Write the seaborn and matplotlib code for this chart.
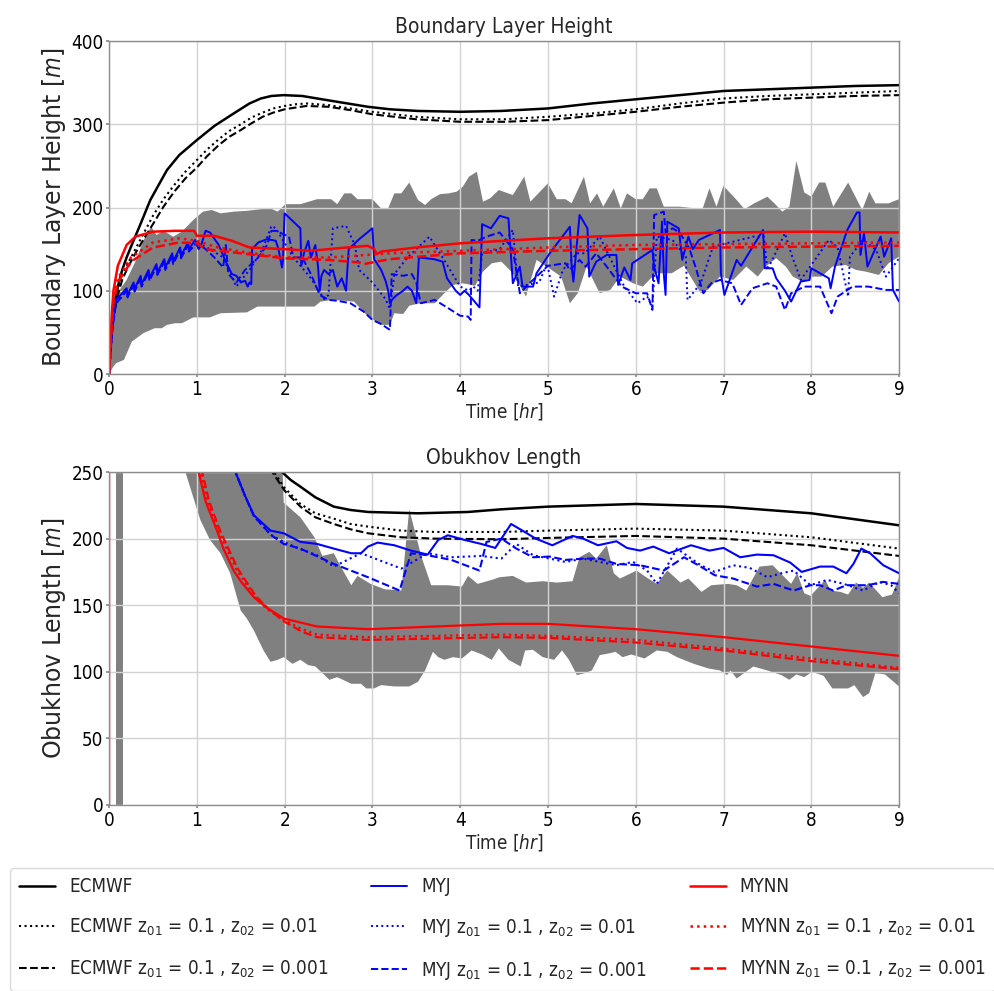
import numpy as np
import matplotlib
matplotlib.use("Agg")
import matplotlib.pyplot as plt
import seaborn as sns

# ---------------- Boundary layer height [m] ----------------
blh_ecmwf_t = [0, 0.02, 0.05, 0.1, 0.15, 0.2, 0.27, 0.35, 0.47, 0.57, 0.66, 0.8, 1.0, 1.2, 1.42, 1.6, 1.73, 1.85,
               1.99, 2.2, 2.37, 2.6, 2.95, 3.2, 3.52, 4.0, 4.47, 5.0, 5.5, 6.0, 6.5, 7.0, 7.5, 8.0, 8.5, 9.0]
blh_ecmwf = [0, 45, 75, 105, 125, 140, 158, 178, 209, 228, 245, 263, 281, 298, 313, 325, 331, 334,
             335, 334, 331, 327, 321, 318, 316, 315, 316, 319, 325, 330, 335, 340, 342, 344, 346, 347]
blh_ecmwf_2_t = [0, 0.02, 0.05, 0.1, 0.15, 0.2, 0.3, 0.4, 0.5, 0.62, 0.75, 0.87, 1.0, 1.12, 1.25, 1.37, 1.5, 1.62,
                 1.75, 1.87, 2.0, 2.12, 2.25, 2.5, 2.75, 3.0, 3.5, 4.0, 4.5, 5.0, 5.5, 6.0, 6.5, 7.0, 7.5, 8.0,
                 8.5, 9.0]
blh_ecmwf_2 = [0, 40, 70, 100, 118, 130, 150, 170, 190, 210, 228, 243, 257, 270, 282, 292, 300, 308,
               314, 319, 322, 324, 325, 323, 319, 315, 309, 306, 306, 309, 313, 318, 325, 331, 334, 336,
               338, 340]
blh_ecmwf_3 = [0, 38, 68, 95, 113, 125, 145, 163, 180, 201, 220, 235, 248, 262, 275, 285, 293, 301,
               309, 314, 318, 320, 322, 321, 317, 312, 306, 303, 303, 305, 310, 315, 321, 326, 330, 332,
               334, 335]

blh_mynn_t = [0, 0.03, 0.05, 0.1, 0.2, 0.3, 0.5, 0.75, 0.97, 1.0, 1.2, 1.4, 1.6, 2.0, 2.3, 2.6, 2.95, 3.02,
              3.05, 3.1, 3.5, 4.0, 4.5, 5.0, 6.0, 7.0, 8.0, 9.0]
blh_mynn = [0, 70, 100, 130, 155, 165, 171, 172, 172, 166, 166, 160, 152, 150, 148, 151, 154, 150,
            144, 147, 152, 157, 160, 163, 167, 170, 171, 170]
blh_mynn_2_t = [0, 0.03, 0.05, 0.1, 0.25, 0.5, 0.8, 1.0, 1.2, 1.5, 2.0, 2.5, 2.8, 3.2, 4.0, 5.0, 6.0, 7.0, 8.0, 9.0]
blh_mynn_2 = [0, 60, 90, 115, 140, 158, 163, 160, 153, 147, 140, 140, 142, 145, 148, 152, 155, 156, 157, 158]
blh_mynn_3_t = [0, 0.03, 0.05, 0.1, 0.25, 0.5, 0.8, 1.0, 1.1, 1.5, 2.0, 2.5, 2.85, 2.9, 3.2, 4.0, 5.0, 6.0, 7.0, 8.0, 9.0]
blh_mynn_3 = [0, 55, 85, 110, 135, 152, 158, 157, 150, 145, 139, 137, 134, 132, 138, 145, 148, 150, 152, 153, 154]

blh_myj_t = [0, 0.04, 0.08, 0.15, 0.2, 0.21, 0.28, 0.29, 0.36, 0.37,
             0.45, 0.46, 0.54, 0.55, 0.63, 0.64, 0.72, 0.73, 0.81, 0.82,
             0.9, 0.91, 0.98, 1.02, 1.05, 1.1, 1.15, 1.25, 1.33, 1.4,
             1.45, 1.5, 1.55, 1.58, 1.6, 1.62, 1.63, 1.7, 1.8, 1.9,
             1.93, 1.97, 1.98, 2.0, 2.1, 2.18, 2.19, 2.22, 2.27, 2.3,
             2.35, 2.38, 2.4, 2.42, 2.45, 2.5, 2.55, 2.6, 2.65, 2.7,
             2.73, 2.85, 3.0, 3.02, 3.1, 3.15, 3.18, 3.2, 3.23, 3.28,
             3.35, 3.4, 3.45, 3.5, 3.53, 3.7, 3.8, 3.85, 3.95, 4.0,
             4.05, 4.1, 4.18, 4.22, 4.25, 4.35, 4.45, 4.55, 4.6, 4.68,
             4.71, 4.83, 4.87, 5.02, 5.25, 5.27, 5.29, 5.36, 5.45, 5.47,
             5.55, 5.67, 5.78, 5.8, 5.87, 5.94, 5.96, 6.19, 6.21, 6.26,
             6.3, 6.32, 6.34, 6.36, 6.49, 6.53, 6.6, 6.65, 6.72, 6.96,
             6.97, 7.01, 7.15, 7.2, 7.45, 7.47, 7.56, 7.6, 7.7, 7.77,
             7.88, 7.98, 8.0, 8.2, 8.22, 8.27, 8.41, 8.52, 8.55, 8.56,
             8.6, 8.64, 8.79, 8.83, 8.91, 8.93, 9.0]
blh_myj = [0, 60, 89, 97, 103, 95, 110, 102, 118, 108,
           125, 115, 132, 122, 138, 128, 145, 135, 152, 142,
           158, 150, 161, 150, 155, 172, 170, 155, 135, 120,
           118, 110, 112, 105, 110, 108, 150, 158, 162, 160,
           150, 128, 135, 193, 183, 175, 130, 145, 160, 140,
           155, 130, 100, 118, 125, 120, 125, 105, 115, 100,
           150, 162, 175, 138, 125, 112, 100, 85, 90, 95,
           100, 105, 100, 85, 140, 138, 135, 115, 100, 95,
           100, 95, 85, 80, 180, 175, 190, 187, 109, 129,
           105, 105, 121, 145, 177, 129, 111, 191, 175, 117,
           135, 143, 143, 107, 128, 113, 133, 149, 129, 109,
           183, 120, 95, 183, 175, 137, 165, 150, 161, 173,
           121, 95, 137, 130, 173, 127, 127, 115, 100, 87,
           111, 113, 127, 115, 103, 129, 173, 194, 194, 143,
           169, 129, 165, 141, 163, 101, 87]
blh_myj_2_t = [0, 0.04, 0.08, 0.15, 0.2, 0.21, 0.28, 0.29, 0.36, 0.37,
               0.45, 0.46, 0.54, 0.55, 0.63, 0.64, 0.72, 0.73, 0.81, 0.82,
               0.9, 0.91, 1.0, 1.15, 1.3, 1.45, 1.5, 1.6, 1.75, 1.85,
               1.9, 2.1, 2.3, 2.45, 2.5, 2.55, 2.7, 2.8, 2.85, 3.0,
               3.15, 3.2, 3.25, 3.4, 3.65, 3.8, 4.0, 4.1, 4.15, 4.2,
               4.25, 4.45, 4.6, 4.66, 4.9, 4.99, 5.07, 5.17, 5.33, 5.42,
               5.59, 5.7, 5.87, 6.02, 6.13, 6.19, 6.24, 6.42, 6.57, 6.59,
               6.74, 6.88, 7.11, 7.34, 7.46, 7.5, 7.7, 7.77, 7.88, 8.04,
               8.2, 8.3, 8.42, 8.44, 8.59, 8.74, 8.85, 9.0]
blh_myj_2 = [0, 58, 87, 95, 101, 93, 108, 100, 116, 106,
             123, 113, 130, 120, 136, 126, 143, 133, 150, 140,
             156, 148, 158, 150, 140, 105, 112, 125, 150, 178,
             175, 140, 115, 90, 95, 175, 178, 155, 125, 110,
             90, 78, 120, 140, 165, 140, 105, 100, 105, 100,
             145, 150, 173, 105, 110, 133, 93, 125, 145, 145,
             165, 141, 105, 85, 93, 81, 165, 161, 141, 89,
             109, 153, 159, 165, 165, 125, 169, 145, 113, 137,
             161, 152, 93, 141, 161, 149, 117, 139]
blh_myj_3_t = [0, 0.04, 0.08, 0.15, 0.2, 0.21, 0.28, 0.29, 0.36, 0.37,
               0.45, 0.46, 0.54, 0.55, 0.63, 0.64, 0.72, 0.73, 0.81, 0.82,
               0.9, 0.91, 1.0, 1.1, 1.2, 1.3, 1.33, 1.36, 1.45, 1.55,
               1.7, 1.8, 1.85, 1.9, 2.05, 2.1, 2.2, 2.3, 2.4, 2.5,
               2.6, 2.75, 2.9, 3.0, 3.1, 3.2, 3.22, 3.35, 3.45, 3.5,
               3.55, 3.71, 3.85, 4.0, 4.09, 4.12, 4.13, 4.2, 4.3, 4.45,
               4.6, 4.68, 4.8, 5.0, 5.2, 5.25, 5.36, 5.43, 5.55, 5.67,
               5.84, 6.0, 6.13, 6.19, 6.21, 6.32, 6.34, 6.42, 6.5, 6.61,
               6.68, 6.77, 6.86, 6.96, 7.1, 7.2, 7.33, 7.5, 7.6, 7.7,
               7.77, 7.92, 8.1, 8.23, 8.3, 8.47, 8.65, 8.85, 9.0]
blh_myj_3 = [0, 55, 85, 93, 100, 92, 107, 99, 115, 105,
             122, 112, 129, 119, 135, 125, 142, 132, 149, 139,
             155, 147, 158, 150, 140, 128, 155, 120, 110, 125,
             140, 155, 172, 172, 165, 140, 140, 120, 95, 89,
             88, 85, 75, 65, 60, 53, 120, 118, 120, 110,
             85, 89, 80, 70, 69, 65, 161, 160, 165, 170,
             150, 97, 110, 130, 133, 125, 137, 129, 145, 129,
             105, 97, 97, 77, 191, 195, 170, 175, 170, 151,
             129, 97, 109, 113, 109, 83, 103, 109, 105, 77,
             97, 105, 105, 73, 93, 105, 105, 101, 101]

# LES envelope (min / max)
blh_hi_t = [0, 0.05, 0.12, 0.2, 0.3, 0.39, 0.48, 0.54, 0.62, 0.73, 0.83, 0.96, 1.07, 1.17, 1.27, 1.42, 1.57,
            1.73, 1.84, 1.92, 2.01, 2.18, 2.37, 2.53, 2.6, 2.68, 2.76, 2.83, 3.0, 3.1, 3.18, 3.25, 3.33, 3.42,
            3.52, 3.6, 3.67, 3.77, 3.87, 3.96, 4.03, 4.1, 4.19, 4.26, 4.34, 4.44, 4.6, 4.73, 4.8, 5.0, 5.1,
            5.2, 5.27, 5.41, 5.48, 5.56, 5.63, 5.75, 5.83, 5.9, 6.0, 6.08, 6.16, 6.24, 6.32, 6.5, 6.76, 6.84,
            6.92, 7.0, 7.15, 7.24, 7.35, 7.5, 7.58, 7.67, 7.75, 7.83, 7.92, 8.0, 8.09, 8.16, 8.25, 8.42, 8.58,
            8.66, 8.73, 8.88, 9.0]
blh_hi = [0, 97, 101, 113, 135, 160, 177, 167, 172, 165, 171, 185, 195, 197, 193, 195, 196,
          198, 199, 195, 204, 204, 210, 210, 204, 217, 217, 210, 210, 199, 199, 217, 217, 230,
          209, 203, 210, 216, 217, 219, 225, 237, 243, 207, 211, 221, 215, 237, 207, 229, 210,
          210, 205, 237, 205, 217, 201, 223, 199, 217, 210, 210, 223, 223, 201, 201, 198, 223,
          201, 226, 209, 198, 205, 213, 205, 195, 201, 256, 218, 213, 230, 230, 201, 230, 197,
          219, 205, 205, 210]
blh_lo_t = [0, 0.05, 0.08, 0.17, 0.26, 0.39, 0.52, 0.6, 0.66, 0.75, 0.83, 0.96, 1.15, 1.27, 1.57, 1.69, 2.34,
            2.41, 2.55, 2.79, 2.95, 3.1, 3.2, 3.25, 3.35, 3.42, 3.54, 3.71, 3.82, 3.92, 4.03, 4.17, 4.26, 4.36,
            4.47, 4.6, 4.75, 4.87, 5.0, 5.15, 5.25, 5.34, 5.44, 5.59, 5.71, 5.82, 5.97, 6.08, 6.23, 6.41, 6.55,
            6.74, 6.82, 6.96, 7.11, 7.26, 7.39, 7.48, 7.6, 7.71, 7.79, 7.9, 8.02, 8.12, 8.24, 8.39, 8.51, 8.62,
            8.77, 8.88, 9.0]
blh_lo = [0, 9, 13, 17, 39, 49, 55, 55, 59, 61, 61, 68, 68, 73, 74, 81, 81,
          87, 89, 87, 69, 59, 59, 73, 72, 82, 85, 85, 97, 107, 109, 106, 123, 133,
          135, 121, 93, 137, 128, 117, 85, 97, 129, 97, 101, 117, 109, 105, 121, 121, 130,
          97, 101, 117, 113, 129, 117, 129, 139, 129, 117, 111, 117, 117, 129, 131, 125, 123,
          119, 133, 141]

# ---------------- Obukhov length [m] ----------------
obl_ecmwf_t = [0.5, 1.2, 1.6, 1.85, 1.97, 2.07, 2.18, 2.35, 2.56, 2.75, 2.95, 3.52, 4.09, 4.47, 5, 6, 7, 8, 9]
obl_ecmwf = [1200, 500, 330, 270, 250, 244, 239, 231, 224, 221.5, 220, 219, 220, 222, 224, 226, 224, 219, 210]
obl_ecmwf_2_t = [0.5, 1.2, 1.6, 1.8, 1.88, 2.0, 2.18, 2.35, 2.56, 2.75, 2.95, 3.33, 3.71, 4.47, 5, 6, 7, 8, 9]
obl_ecmwf_2 = [1200, 500, 320, 265, 250, 238, 226, 219, 215, 211, 209, 206, 205, 205, 206, 207.5, 206, 201, 192.5]
obl_ecmwf_3_t = [0.5, 1.2, 1.6, 1.78, 1.86, 2.0, 2.18, 2.35, 2.56, 2.75, 2.95, 3.33, 3.71, 4.47, 5, 6, 7, 8, 9]
obl_ecmwf_3 = [1200, 480, 310, 262, 250, 236, 224, 216, 211, 207, 204, 201, 200, 199.5, 200.5, 202, 200, 195, 187]

obl_mynn_t = [0, 0.001, 0.5, 1.02, 1.1, 1.23, 1.3, 1.42, 1.5, 1.65, 1.8, 1.99, 2.37, 2.95, 3.71, 4.47,
              5, 6, 7, 8, 9]
obl_mynn = [-50, 3000, 700, 250, 228, 206, 193, 176, 168, 156, 148, 140, 134, 132, 134, 136,
            136, 132, 126, 119, 112]
obl_mynn_2_t = [0.5, 1.04, 1.12, 1.25, 1.45, 1.65, 1.8, 1.99, 2.2, 2.37, 2.95, 3.71, 4.47, 5, 6, 7, 8, 9]
obl_mynn_2 = [700, 250, 228, 205, 177, 157, 147, 139, 132, 128, 126, 127, 128, 127, 124, 117.5, 110, 103]
obl_mynn_3_t = [0.5, 1.06, 1.14, 1.27, 1.47, 1.67, 1.82, 1.99, 2.2, 2.37, 2.95, 3.71, 4.47, 5, 6, 7, 8, 9]
obl_mynn_3 = [700, 250, 228, 205, 177, 157, 147, 138, 130, 126, 124, 125, 126, 125.5, 122, 116, 108, 102]

obl_myj_t = [1.0, 1.44, 1.55, 1.65, 1.84, 1.99, 2.18, 2.37, 2.56, 2.76, 2.87, 2.95, 3.06, 3.25, 3.44, 3.63,
             3.75, 3.86, 4.05, 4.24, 4.4, 4.47, 4.58, 4.71, 4.86, 5.05, 5.28, 5.4, 5.57, 5.78, 5.9, 6.05,
             6.2, 6.38, 6.63, 6.84, 7.0, 7.19, 7.38, 7.57, 7.76, 7.89, 8.1, 8.25, 8.4, 8.48, 8.57, 8.67,
             8.82, 9.0]
obl_myj = [500, 250, 232, 217.5, 206, 204, 197.5, 196, 192.5, 189, 189, 194, 197, 195, 191, 188,
           199, 202.5, 199, 196, 193, 200, 211, 206, 200, 195, 202, 200, 195, 198, 193, 191,
           194, 189, 195, 191, 193, 186, 188, 187.5, 182, 175, 179, 179, 174, 181, 192.5, 189,
           180, 174]
obl_myj_2_t = [1.0, 1.44, 1.55, 1.65, 1.84, 1.99, 2.18, 2.37, 2.56, 2.87, 3.33, 3.63, 3.9, 4.24, 4.47,
               4.64, 4.83, 5.02, 5.2, 5.4, 5.59, 5.78, 5.97, 6.13, 6.24, 6.47, 6.74, 6.9, 7.11, 7.3,
               7.5, 7.66, 7.8, 7.99, 8.18, 8.37, 8.59, 8.78, 8.91, 9.0]
obl_myj_2 = [500, 250, 232, 217, 203, 197.5, 192, 187.5, 179, 189, 177.5, 189, 186, 187, 185,
             196, 187.5, 185, 182.5, 185, 182.5, 180, 182.5, 176, 166, 192.5, 180, 175, 180, 178,
             171, 174, 176, 165, 169, 166, 161, 167.5, 165, 159]
obl_myj_3_t = [1.0, 1.44, 1.55, 1.65, 1.84, 1.99, 2.18, 2.56, 2.95, 3.31, 3.44, 3.63, 3.9, 4.22, 4.3,
               4.47, 4.64, 4.83, 5.02, 5.2, 5.4, 5.59, 5.78, 6.05, 6.32, 6.55, 6.74, 6.9, 7.11, 7.38,
               7.57, 7.8, 7.99, 8.1, 8.25, 8.4, 8.64, 8.82, 9.0]
obl_myj_3 = [500, 250, 232, 217, 203, 196, 192.5, 181, 171, 161, 189, 187.5, 184, 176, 197.5,
             200, 192.5, 186, 186.5, 184, 185, 185, 181, 180, 176, 186, 179, 172.5, 170, 164,
             166, 161, 165, 165, 161, 165, 165, 167.5, 166]

# LES envelope (min / max)
obl_spike_t = [0.076, 0.164]
obl_spike_lo = [-100, -100]
obl_spike_hi = [5000, 5000]
obl_hi_t = [0.85, 1.95, 1.99, 2.18, 2.34, 2.43, 2.56, 2.64, 2.76, 2.83, 2.98, 3.14, 3.33, 3.42, 3.56, 3.67,
            3.86, 4.02, 4.09, 4.2, 4.36, 4.45, 4.6, 4.75, 4.94, 5.1, 5.28, 5.36, 5.47, 5.55, 5.67, 5.75,
            5.82, 6.01, 6.12, 6.24, 6.36, 6.51, 6.6, 6.75, 6.86, 7.05, 7.15, 7.26, 7.41, 7.56, 7.77, 7.84,
            7.92, 7.99, 8.16, 8.22, 8.33, 8.42, 8.51, 8.59, 8.66, 8.81, 8.92, 9.0]
obl_hi = [400, 300, 227, 216, 201, 187, 189, 179, 165, 172, 166, 162, 161, 222, 186, 165,
          165, 164, 172, 166, 169, 171, 172, 167, 168, 167, 168, 186, 190, 185, 195, 174,
          170, 176, 171, 166, 176, 167, 170, 160, 165, 166, 165, 161, 179, 180, 166, 174,
          159, 157, 169, 161, 160, 158, 167, 163, 167, 156, 158, 171]
obl_lo_t = [0.85, 0.87, 1.04, 1.15, 1.27, 1.38, 1.5, 1.57, 1.65, 1.76, 1.84, 1.92, 1.99, 2.09, 2.18, 2.27,
            2.35, 2.43, 2.51, 2.6, 2.76, 2.87, 2.93, 3.02, 3.1, 3.25, 3.33, 3.42, 3.52, 3.6, 3.69, 3.75,
            3.82, 3.92, 4.02, 4.13, 4.25, 4.36, 4.44, 4.55, 4.69, 4.74, 4.83, 4.94, 5.07, 5.16, 5.24, 5.33,
            5.42, 5.5, 5.59, 5.71, 5.77, 5.85, 5.95, 6.1, 6.24, 6.36, 6.47, 6.66, 6.83, 6.96, 7.04, 7.08,
            7.15, 7.34, 7.5, 7.66, 7.75, 7.83, 7.92, 8.01, 8.14, 8.24, 8.42, 8.49, 8.59, 8.66, 8.73, 8.84,
            9.0]
obl_lo = [400, 250, 214, 199, 189, 174, 146, 140, 131, 116, 107.5, 109, 111, 106, 109, 105,
          104, 99, 94, 96, 91, 91, 87.5, 87.5, 90, 89, 89, 89, 92.5, 101, 115, 111,
          109, 111, 110, 116, 113, 109, 117.5, 109, 104, 116, 116.5, 111, 109, 116, 109, 97.5,
          99, 101, 112.5, 114, 115, 111, 113, 110, 116, 115, 111, 106, 102.5, 101, 97.5, 101,
          95, 104, 101, 97.5, 94, 98, 96, 100, 97, 87.5, 87.5, 90, 81, 84, 99, 98,
          89]

labels = ["ECMWF",
          "ECMWF z$_{01}$ = 0.1 , z$_{02}$ = 0.01",
          "ECMWF z$_{01}$ = 0.1 , z$_{02}$ = 0.001",
          "MYJ",
          "MYJ z$_{01}$ = 0.1 , z$_{02}$ = 0.01",
          "MYJ z$_{01}$ = 0.1 , z$_{02}$ = 0.001",
          "MYNN",
          "MYNN z$_{01}$ = 0.1 , z$_{02}$ = 0.01",
          "MYNN z$_{01}$ = 0.1 , z$_{02}$ = 0.001"]

sns.set_theme(style="whitegrid")
plt.rcParams["font.family"] = ["DejaVu Sans"]
plt.rcParams["font.stretch"] = "condensed"
plt.rcParams["mathtext.fontset"] = "custom"
plt.rcParams["mathtext.rm"] = "DejaVu Sans:stretch=condensed"
plt.rcParams["mathtext.it"] = "DejaVu Sans:style=italic:stretch=condensed"
plt.rcParams["mathtext.bf"] = "DejaVu Sans:weight=bold:stretch=condensed"
plt.rcParams["axes.axisbelow"] = "line"
plt.rcParams["axes.edgecolor"] = "#8c8c8c"
plt.rcParams["axes.linewidth"] = 1.0
plt.rcParams["grid.color"] = "#d2d2d2"
plt.rcParams["grid.linewidth"] = 1.0

fig = plt.figure(figsize=(9.94, 9.91), dpi=100)
ax1 = fig.add_axes([0.1097, 0.6226, 0.7948, 0.336])
ax2 = fig.add_axes([0.1097, 0.1877, 0.7948, 0.336])


def line(ax, t, v, color, ls, lw=1.6, label=None):
    sns.lineplot(x=t, y=v, ax=ax, color=color, linestyle=ls, linewidth=lw,
                 estimator=None, sort=False, label=label)


# top panel
ax1.fill(np.r_[blh_hi_t, blh_lo_t[::-1]], np.r_[blh_hi, blh_lo[::-1]], color="gray", lw=0, zorder=1)
line(ax1, blh_ecmwf_t, blh_ecmwf, "black", "-", 1.8, labels[0])
line(ax1, blh_ecmwf_2_t, blh_ecmwf_2, "black", ":", 1.5, labels[1])
line(ax1, blh_ecmwf_2_t, blh_ecmwf_3, "black", "--", 1.5, labels[2])
line(ax1, blh_myj_t, blh_myj, "blue", "-", 1.4, labels[3])
line(ax1, blh_myj_2_t, blh_myj_2, "blue", ":", 1.4, labels[4])
line(ax1, blh_myj_3_t, blh_myj_3, "blue", "--", 1.4, labels[5])
line(ax1, blh_mynn_t, blh_mynn, "red", "-", 1.8, labels[6])
line(ax1, blh_mynn_2_t, blh_mynn_2, "red", ":", 1.8, labels[7])
line(ax1, blh_mynn_3_t, blh_mynn_3, "red", "--", 1.8, labels[8])

# bottom panel
ax2.fill_between(obl_spike_t, obl_spike_lo, obl_spike_hi, color="gray", lw=0, zorder=1)
ax2.fill(np.r_[obl_hi_t, obl_lo_t[::-1]], np.r_[obl_hi, obl_lo[::-1]], color="gray", lw=0, zorder=1)
line(ax2, obl_ecmwf_t, obl_ecmwf, "black", "-", 1.8)
line(ax2, obl_ecmwf_2_t, obl_ecmwf_2, "black", ":", 1.5)
line(ax2, obl_ecmwf_3_t, obl_ecmwf_3, "black", "--", 1.5)
line(ax2, obl_myj_t, obl_myj, "blue", "-", 1.5)
line(ax2, obl_myj_2_t, obl_myj_2, "blue", ":", 1.5)
line(ax2, obl_myj_3_t, obl_myj_3, "blue", "--", 1.5)
line(ax2, obl_mynn_t, obl_mynn, "red", "-", 1.6)
line(ax2, obl_mynn_2_t, obl_mynn_2, "red", ":", 1.6)
line(ax2, obl_mynn_3_t, obl_mynn_3, "red", "--", 1.6)

handles, _ = ax1.get_legend_handles_labels()

for ax, title, ylab, ymax, ystep in [(ax1, "Boundary Layer Height", "Boundary Layer Height [$m$]", 400, 100),
                                     (ax2, "Obukhov Length", "Obukhov Length [$m$]", 250, 50)]:
    if ax.get_legend() is not None:
        ax.get_legend().remove()
    ax.set_xlim(0, 9)
    ax.set_ylim(0, ymax)
    ax.set_xticks(range(10))
    ax.set_yticks(range(0, ymax + 1, ystep))
    ax.tick_params(axis="both", labelsize=13.5, colors="#8c8c8c", labelcolor="black")
    ax.tick_params(axis="y", left=True, length=2.5, pad=1.5)
    ax.tick_params(axis="x", bottom=True, length=2.5, pad=2)
    ax.set_title(title, fontsize=15, pad=6)
    ax.set_xlabel("Time [$hr$]", fontsize=13.5, labelpad=1)
    ax.set_ylabel(ylab, fontsize=17, family="DejaVu Sans", fontstretch="normal", labelpad=2)
    ax.grid(True)

fig.legend(handles, labels, loc="upper left", bbox_to_anchor=(0.01, 0.1241), ncol=3,
           fontsize=13.5, handlelength=1.9, handletextpad=0.75, columnspacing=2.3,
           labelspacing=1.1, borderpad=0.5, borderaxespad=0, frameon=True, edgecolor="#d0d0d0")

fig.savefig("out.png", dpi=100)
